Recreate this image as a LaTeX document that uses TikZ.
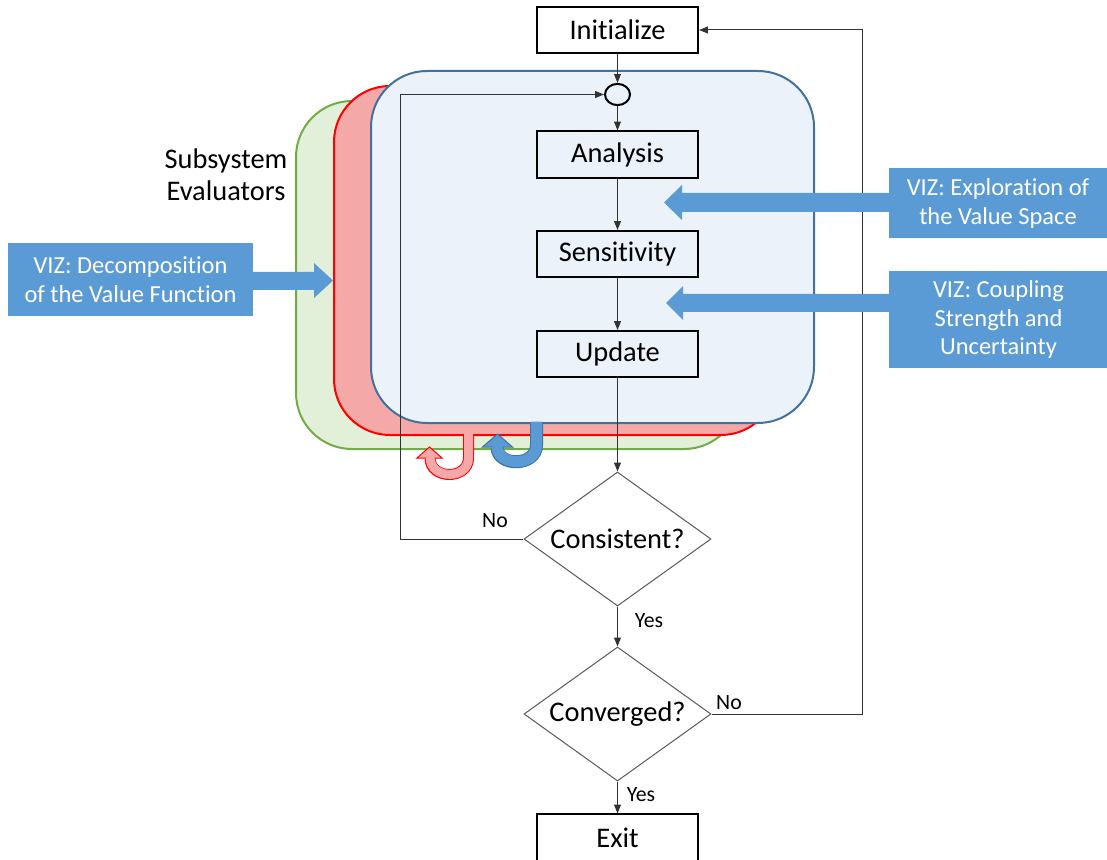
\documentclass[tikz,border=0pt]{standalone}
\usepackage{fontspec}
\setmainfont{Carlito}[Ligatures=NoCommon]
\usetikzlibrary{shapes.geometric,arrows.meta}
\definecolor{vizblue}{RGB}{91,155,213}
\definecolor{vizedge}{RGB}{65,113,156}
\definecolor{bluefill}{RGB}{235,242,250}
\definecolor{redfill}{RGB}{245,168,168}
\definecolor{greenfill}{RGB}{226,239,217}
\definecolor{greenedge}{RGB}{112,173,71}
\begin{document}
\begin{tikzpicture}[x=0.025cm,y=-0.025cm,
  panel/.style={rounded corners=1.4cm,line width=0.05cm},
  stepbox/.style={draw=black,line width=0.05cm,minimum width=4.025cm,minimum height=1.15cm,inner sep=0pt,font=\fontsize{20.2}{23}\selectfont},
  decision/.style={diamond,draw=black!65,line width=0.025cm,aspect=1.4,minimum width=4.675cm,minimum height=3.35cm,inner sep=0pt,font=\fontsize{20.2}{23}\selectfont},
  conn/.style={draw=black!80,line width=0.025cm,-{Triangle[length=0.22cm,width=0.17cm]}},
  lbl/.style={font=\fontsize{15.5}{18}\selectfont,inner sep=0pt},
  vizbox/.style={fill=vizblue,text=white,align=center,inner sep=0pt,font=\fontsize{17.4}{20.6}\selectfont},
  blockarrow/.style={fill=vizblue},
]
\useasboundingbox (0,0) rectangle (1107,860);

% stacked subsystem panels
\draw[panel,fill=greenfill,draw=greenedge] (296,101) rectangle (740,449);
\draw[panel,fill=redfill,draw=red] (334,86) rectangle (777,435);
\draw[panel,fill=bluefill,draw=vizedge] (371,71) rectangle (814,423);

% U-turn arrows below the panels
\draw[red,line width=0.275cm] (468.5,435) -- (468.5,458) .. controls (468.5,480) and (430,480) .. (430,458);
\filldraw[fill=redfill,draw=red,line width=0.025cm] (417,458) -- (429.5,447) -- (442,458) -- cycle;
\draw[redfill,line width=0.225cm] (468.5,433) -- (468.5,458) .. controls (468.5,480) and (430,480) .. (430,457);

\draw[vizedge,line width=0.325cm] (536.5,423) -- (536.5,445) .. controls (536.5,467) and (497,467) .. (497,447);
\filldraw[fill=vizblue,draw=vizedge,line width=0.025cm] (482.5,447) -- (497.5,434) -- (512.5,447) -- cycle;
\draw[vizblue,line width=0.275cm] (536.5,421.5) -- (536.5,445) .. controls (536.5,467) and (497,467) .. (497,446);

% process steps
\node[stepbox] (init) at (617.5,30) {\raisebox{-1.2pt}{Initialize}};
\node[draw=black,line width=0.05cm,ellipse,minimum width=0.625cm,minimum height=0.53cm,inner sep=0pt] (circ) at (617.5,94.5) {};
\node[stepbox] (ana) at (617.5,154.5) {\raisebox{-1.2pt}{Analysis}};
\node[stepbox] (sens) at (617.5,254) {\raisebox{-1.2pt}{Sensitivity}};
\node[stepbox] (upd) at (617.5,354) {\raisebox{-1.2pt}{Update}};
\node[decision] (cons) at (617.5,539) {Consistent?};
\node[decision] (conv) at (617.5,714) {Converged?};
\node[stepbox] (exit) at (617.5,837.5) {Exit};

\node[align=center,inner sep=0pt,font=\fontsize{20.2}{22.8}\selectfont] (subsys) at (226,175) {Subsystem\\Evaluators};

% flow connectors
\draw[conn] (init) -- (circ);
\draw[conn] (circ) -- (ana);
\draw[conn] (ana) -- (sens);
\draw[conn] (sens) -- (upd);
\draw[conn] (upd) -- (cons);
\draw[conn] (cons) -- (conv);
\draw[conn] (conv) -- (exit);

\coordinate (loopL) at (400,300);
\coordinate (loopR) at (862,300);
\draw[conn] (cons.west) -- (cons.west -| loopL) -- (circ.west -| loopL) -- (circ.west);
\draw[conn] (conv.east) -- (conv.east -| loopR) -- (init.east -| loopR) -- (init.east);

\node[lbl] (noA) at (495,521) {No};
\node[lbl] (yesA) at (649,621) {Yes};
\node[lbl] (noB) at (729,703) {No};
\node[lbl] (yesB) at (641,795) {Yes};

% visualization call-outs
\node[vizbox,minimum width=6.125cm,minimum height=1.825cm] (vizL) at (130.5,279.5) {VIZ: Decomposition\\of the Value Function};
\node[vizbox,minimum width=5.45cm,minimum height=1.75cm] (vizA) at (998,203) {VIZ: Exploration of\\the Value Space};
\node[vizbox,minimum width=5.45cm,minimum height=2.425cm] (vizB) at (998.5,319.5) {VIZ: Coupling\\Strength and\\Uncertainty};

\fill[blockarrow] (252,272) -- (314,272) -- (314,263) -- (333,280.5) -- (314,298) -- (314,290) -- (252,290) -- cycle;
\fill[blockarrow] (890,193) -- (682,193) -- (682,185) -- (664,202.5) -- (682,220) -- (682,212) -- (890,212) -- cycle;
\fill[blockarrow] (891,294) -- (683,294) -- (683,286) -- (666,303) -- (683,320) -- (683,312) -- (891,312) -- cycle;
\end{tikzpicture}
\end{document}
